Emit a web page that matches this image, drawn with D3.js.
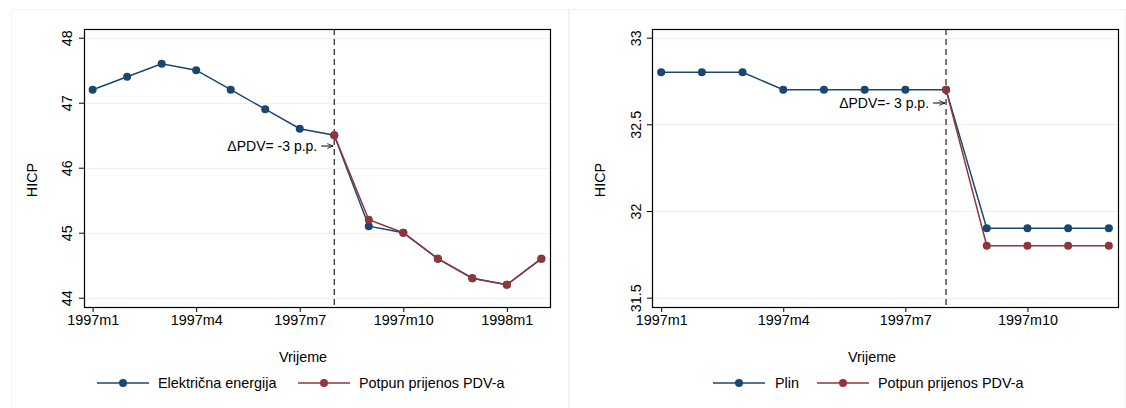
<!DOCTYPE html>
<html>
<head>
<meta charset="utf-8">
<script src="https://cdn.jsdelivr.net/npm/d3@7"></script>
<style>
	body { margin: 0; background: #fff; }
	svg { display: block; font-family: 'Liberation Sans', Arial, sans-serif; }
</style>
</head>
<body>
<script>
'use strict';

// left panel: electricity
const elecMonths = ['1997m1', '1997m2', '1997m3', '1997m4', '1997m5', '1997m6', '1997m7',
	'1997m8', '1997m9', '1997m10', '1997m11', '1997m12', '1998m1', '1998m2'];
const elecValues = [47.2, 47.4, 47.6, 47.5, 47.2, 46.9, 46.6, 46.5, 45.1, 45.0, 44.6, 44.3, 44.2, 44.6];
const elecPassThrough = [null, null, null, null, null, null, null, 46.5, 45.2, 45.0, 44.6, 44.3, 44.2, 44.6];
const elecYTicks = [44, 45, 46, 47, 48];
const elecXTicks = ['1997m1', '1997m4', '1997m7', '1997m10', '1998m1'];

// right panel: gas
const gasMonths = ['1997m1', '1997m2', '1997m3', '1997m4', '1997m5', '1997m6', '1997m7',
	'1997m8', '1997m9', '1997m10', '1997m11', '1997m12'];
const gasValues = [32.8, 32.8, 32.8, 32.7, 32.7, 32.7, 32.7, 32.7, 31.9, 31.9, 31.9, 31.9];
const gasPassThrough = [null, null, null, null, null, null, null, 32.7, 31.8, 31.8, 31.8, 31.8];
const gasYTicks = [31.5, 32, 32.5, 33];
const gasXTicks = ['1997m1', '1997m4', '1997m7', '1997m10'];

const BLUE = '#1a476f';
const RED = '#90353b';
const GRID = '#eaf2f3';
const FONT = '14.4px';

const svg = d3.select('body').append('svg')
	.attr('width', 1126)
	.attr('height', 408);

svg.append('defs').append('marker')
	.attr('id', 'arrowhead')
	.attr('viewBox', '0 -5 10 10')
	.attr('refX', 10)
	.attr('refY', 0)
	.attr('orient', 'auto')
	.attr('markerUnits', 'userSpaceOnUse')
	.attr('markerWidth', 6)
	.attr('markerHeight', 6)
	.append('path')
	.attr('d', 'M 0,-4 L 10,0 L 0,4')
	.attr('fill', 'none')
	.attr('stroke', '#000')
	.attr('stroke-width', 1.3);

drawPanel({
	boxX: 11, boxW: 558,
	left: 84, right: 550,
	months: elecMonths, values: elecValues, pass: elecPassThrough,
	yTicks: elecYTicks, xTicks: elecXTicks,
	yDomain: [43.857, 48.134], pad: 0.25,
	eventMonth: '1997m8',
	note: '\u0394PDV= -3 p.p.', noteY: 146,
	seriesName: 'Električna energija',
	legend: {blueX: 97, redX: 298, blueText: 158, redText: 359},
	yLabelX: 67, yTitleX: 32, xTitleX: 303
});

drawPanel({
	boxX: 569, boxW: 557,
	left: 652, right: 1118,
	months: gasMonths, values: gasValues, pass: gasPassThrough,
	yTicks: gasYTicks, xTicks: gasXTicks,
	yDomain: [31.446, 33.05], pad: 0.225,
	eventMonth: '1997m8',
	note: '\u0394PDV=- 3 p.p.', noteY: 103,
	seriesName: 'Plin',
	legend: {blueX: 713, redX: 817, blueText: 775, redText: 878},
	yLabelX: 636, yTitleX: 600, xTitleX: 872
});

function drawPanel(cfg) {
	const top = 29;
	const bottom = 307;

	// faint panel outline
	svg.append('rect')
		.attr('x', cfg.boxX + 0.5)
		.attr('y', 9.5)
		.attr('width', cfg.boxW - 1)
		.attr('height', 420)
		.attr('fill', 'none')
		.attr('stroke', '#f1f3f4')
		.attr('stroke-width', 1);

	const n = cfg.months.length;
	const x = d3.scaleLinear()
		.domain([-cfg.pad, n - 1 + cfg.pad])
		.range([cfg.left, cfg.right]);
	const y = d3.scaleLinear()
		.domain(cfg.yDomain)
		.range([bottom, top]);
	const idx = m => cfg.months.indexOf(m);

	const g = svg.append('g');

	// gridlines
	g.append('g')
		.selectAll('line')
		.data(cfg.yTicks)
		.enter()
		.append('line')
		.attr('x1', cfg.left)
		.attr('x2', cfg.right)
		.attr('y1', d => Math.round(y(d)) + 0.5)
		.attr('y2', d => Math.round(y(d)) + 0.5)
		.attr('stroke', GRID)
		.attr('stroke-width', 1);

	// y axis
	const yAxis = g.append('g')
		.attr('transform', `translate(${cfg.left},0)`)
		.call(d3.axisLeft(y).tickValues(cfg.yTicks).tickSize(5).tickFormat(d3.format('')));
	yAxis.select('.domain').remove();
	yAxis.selectAll('.tick line').attr('stroke', '#000');
	yAxis.selectAll('.tick text')
		.attr('x', null)
		.attr('dy', null)
		.attr('transform', `translate(${cfg.yLabelX - cfg.left + 5},0) rotate(-90)`)
		.attr('text-anchor', 'middle')
		.style('font-size', FONT)
		.style('font-family', 'Liberation Sans, Arial, sans-serif')
		.attr('fill', '#000');

	// x axis
	const xAxis = g.append('g')
		.attr('transform', `translate(0,${bottom})`)
		.call(d3.axisBottom(x)
			.tickValues(cfg.xTicks.map(idx))
			.tickSize(5)
			.tickFormat(i => cfg.months[i]));
	xAxis.select('.domain').remove();
	xAxis.selectAll('.tick line').attr('stroke', '#000');
	xAxis.selectAll('.tick text')
		.attr('y', 8)
		.attr('dy', '0.71em')
		.style('font-size', FONT)
		.style('font-family', 'Liberation Sans, Arial, sans-serif')
		.attr('fill', '#000');

	// frame
	g.append('rect')
		.attr('x', cfg.left + 0.5)
		.attr('y', top + 0.5)
		.attr('width', cfg.right - cfg.left)
		.attr('height', bottom - top)
		.attr('fill', 'none')
		.attr('stroke', '#000')
		.attr('stroke-width', 1.2);

	// event line
	const ex = x(idx(cfg.eventMonth));
	g.append('line')
		.attr('x1', ex)
		.attr('x2', ex)
		.attr('y1', top)
		.attr('y2', bottom)
		.attr('stroke', '#222')
		.attr('stroke-width', 1.2)
		.attr('stroke-dasharray', '6,4');

	// annotation with arrow
	g.append('line')
		.attr('x1', ex - 13)
		.attr('x2', ex - 1)
		.attr('y1', cfg.noteY)
		.attr('y2', cfg.noteY)
		.attr('stroke', '#000')
		.attr('stroke-width', 1)
		.attr('marker-end', 'url(#arrowhead)');
	g.append('text')
		.attr('x', ex - 17)
		.attr('y', cfg.noteY)
		.attr('dy', '0.35em')
		.attr('text-anchor', 'end')
		.style('font-size', '14px')
		.attr('fill', '#000')
		.text(cfg.note);

	const line = d3.line()
		.defined(d => d.v !== null)
		.x(d => x(d.i))
		.y(d => y(d.v));

	const series = [
		{color: BLUE, data: cfg.values.map((v, i) => ({i, v}))},
		{color: RED, data: cfg.pass.map((v, i) => ({i, v}))}
	];

	series.forEach(s => {
		g.append('path')
			.datum(s.data)
			.attr('d', line)
			.attr('fill', 'none')
			.attr('stroke', s.color)
			.attr('stroke-width', 1.5);
	});
	series.forEach(s => {
		g.append('g')
			.selectAll('circle')
			.data(s.data.filter(d => d.v !== null))
			.enter()
			.append('circle')
			.attr('cx', d => x(d.i))
			.attr('cy', d => y(d.v))
			.attr('r', 4)
			.attr('fill', s.color);
	});

	// axis titles
	svg.append('text')
		.attr('transform', `translate(${cfg.yTitleX},180) rotate(-90)`)
		.attr('dy', '0.35em')
		.attr('text-anchor', 'middle')
		.style('font-size', FONT)
		.text('HICP');

	svg.append('text')
		.attr('x', cfg.xTitleX)
		.attr('y', 357)
		.attr('dy', '0.35em')
		.attr('text-anchor', 'middle')
		.style('font-size', FONT)
		.text('Vrijeme');

	// legend
	const ly = 383;
	const items = [
		{color: BLUE, lx: cfg.legend.blueX, tx: cfg.legend.blueText, label: cfg.seriesName},
		{color: RED, lx: cfg.legend.redX, tx: cfg.legend.redText, label: 'Potpun prijenos PDV-a'}
	];
	items.forEach(it => {
		svg.append('line')
			.attr('x1', it.lx)
			.attr('x2', it.lx + 52)
			.attr('y1', ly)
			.attr('y2', ly)
			.attr('stroke', it.color)
			.attr('stroke-width', 1.5);
		svg.append('circle')
			.attr('cx', it.lx + 26)
			.attr('cy', ly)
			.attr('r', 4)
			.attr('fill', it.color);
		svg.append('text')
			.attr('x', it.tx)
			.attr('y', ly)
			.attr('dy', '0.35em')
			.style('font-size', FONT)
			.text(it.label);
	});
}
</script>
</body>
</html>
